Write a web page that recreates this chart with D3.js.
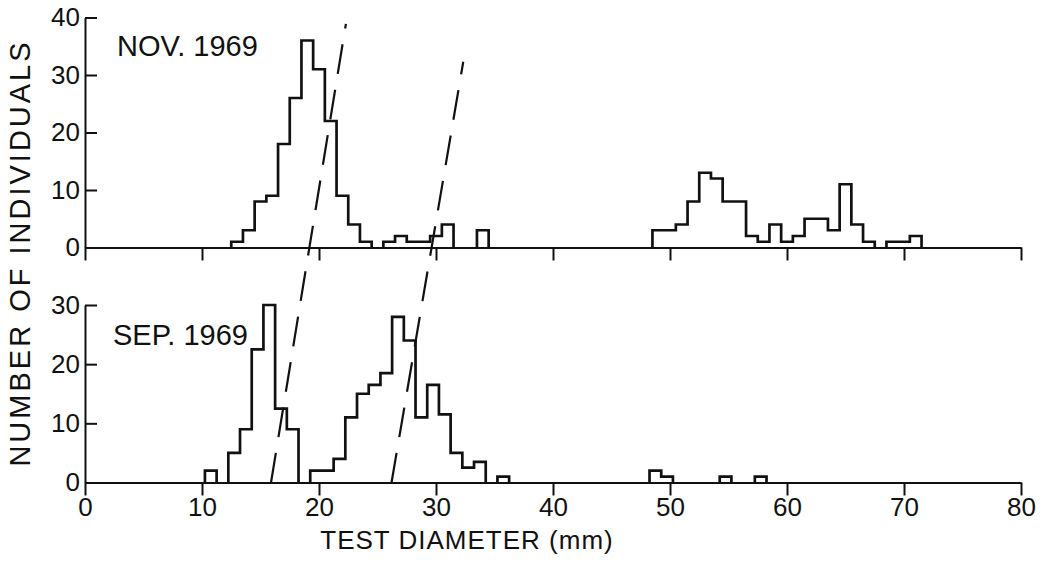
<!DOCTYPE html>
<html>
<head>
<meta charset="utf-8">
<script src="https://cdn.jsdelivr.net/npm/d3@7"></script>
<style>
body { margin: 0; background: #fff; }
text { font-family: "Liberation Sans", Arial, sans-serif; fill: #111; }
.axis path, .axis line { stroke: #111; stroke-width: 2px; }
</style>
</head>
<body>
<div id="chart"></div>
<script>
// histogram data, 1 mm bins; first bin starts at the given lower edge
var novStart = 12.5;
var novCounts = [1, 3, 8, 9, 18, 26, 36, 31, 22, 9, 4, 1, 0, 1, 2, 1, 1, 2, 4, 0, 0, 3,
                 0, 0, 0, 0, 0, 0, 0, 0, 0, 0, 0, 0, 0, 0,
                 3, 3, 4, 8, 13, 12, 8, 8, 2, 1, 4, 1, 2, 5, 5, 3, 11, 4, 1, 0, 1, 1, 2];

var sepStart = 10.25;
var sepCounts = [2, 0, 5, 9, 22.5, 30, 12.5, 9, 0, 2, 2, 4, 11, 15, 16.5, 18.5, 28, 24, 11, 16.5, 11.5, 5, 2.5, 3.5, 0, 1,
                 0, 0, 0, 0, 0, 0, 0, 0, 0, 0, 0, 0,
                 2, 1, 0, 0, 0, 0, 1, 0, 0, 1];

// dashed growth lines: mm at the Sep. baseline -> mm / count where they end in the Nov. panel
var trackSep = [15.9, 26.2];
var trackNov = [22.3, 32.33];
var trackNovCount = [38.9, 32.3];

var xTicks = [0, 10, 20, 30, 40, 50, 60, 70, 80];
var novTicks = [0, 10, 20, 30, 40];
var sepTicks = [0, 10, 20, 30];

var width = 1043, height = 564;

var svg = d3.select("#chart")
            .append("svg")
            .attr("width", width)
            .attr("height", height);

var x = d3.scaleLinear().domain([0, 80]).range([85, 1021]);
var yNov = d3.scaleLinear().domain([0, 40]).range([247.5, 17.5]);
var ySep = d3.scaleLinear().domain([0, 30]).range([482.5, 305]);

// axes
svg.append("g")
   .attr("class", "axis")
   .attr("transform", "translate(0," + yNov(0) + ")")
   .call(d3.axisBottom(x).tickValues(xTicks).tickSize(13).tickSizeOuter(0).tickFormat(""));

svg.append("g")
   .attr("class", "axis")
   .attr("transform", "translate(0," + ySep(0) + ")")
   .call(d3.axisBottom(x).tickValues(xTicks).tickSize(13).tickSizeOuter(0).tickPadding(2))
   .selectAll("text").style("font-size", "26px");

svg.append("g")
   .attr("class", "axis")
   .attr("transform", "translate(" + x(0) + ",0)")
   .call(d3.axisLeft(yNov).tickValues(novTicks).tickSize(-12).tickSizeOuter(0).tickPadding(5))
   .selectAll("text").style("font-size", "26px");

svg.append("g")
   .attr("class", "axis")
   .attr("transform", "translate(" + x(0) + ",0)")
   .call(d3.axisLeft(ySep).tickValues(sepTicks).tickSize(-12).tickSizeOuter(0).tickPadding(5))
   .selectAll("text").style("font-size", "26px");

// step outline, broken where a bin is empty
function stepPath(start, counts, y) {
  var p = d3.path(), open = false;
  counts.forEach(function(c, i) {
    var lo = x(start + i), hi = x(start + i + 1);
    if (c > 0) {
      if (!open) { p.moveTo(lo, y(0)); open = true; }
      p.lineTo(lo, y(c));
      p.lineTo(hi, y(c));
    } else if (open) {
      p.lineTo(lo, y(0));
      open = false;
    }
  });
  if (open) p.lineTo(x(start + counts.length), y(0));
  return p.toString();
}

svg.append("path")
   .attr("d", stepPath(novStart, novCounts, yNov))
   .attr("fill", "none")
   .attr("stroke", "#111")
   .attr("stroke-width", 2.7);

svg.append("path")
   .attr("d", stepPath(sepStart, sepCounts, ySep))
   .attr("fill", "none")
   .attr("stroke", "#111")
   .attr("stroke-width", 2.7);

// dashed lines
trackSep.forEach(function(d, i) {
  svg.append("line")
     .attr("x1", x(d)).attr("y1", ySep(0))
     .attr("x2", x(trackNov[i])).attr("y2", yNov(trackNovCount[i]))
     .attr("stroke", "#111")
     .attr("stroke-width", 2.2)
     .attr("stroke-dasharray", "30,16");
});

// panel labels
svg.append("text")
   .attr("x", 117).attr("y", 56)
   .style("font-size", "29px")
   .text("NOV. 1969");

svg.append("text")
   .attr("x", 113).attr("y", 345)
   .style("font-size", "29px")
   .text("SEP. 1969");

// axis titles
svg.append("text")
   .attr("transform", "translate(30,253) rotate(-90)")
   .attr("text-anchor", "middle")
   .style("font-size", "29px")
   .style("letter-spacing", "3px")
   .text("NUMBER OF INDIVIDUALS");

svg.append("text")
   .attr("x", 467).attr("y", 549)
   .attr("text-anchor", "middle")
   .style("font-size", "26px")
   .style("letter-spacing", "1px")
   .text("TEST DIAMETER (mm)");
</script>
</body>
</html>
